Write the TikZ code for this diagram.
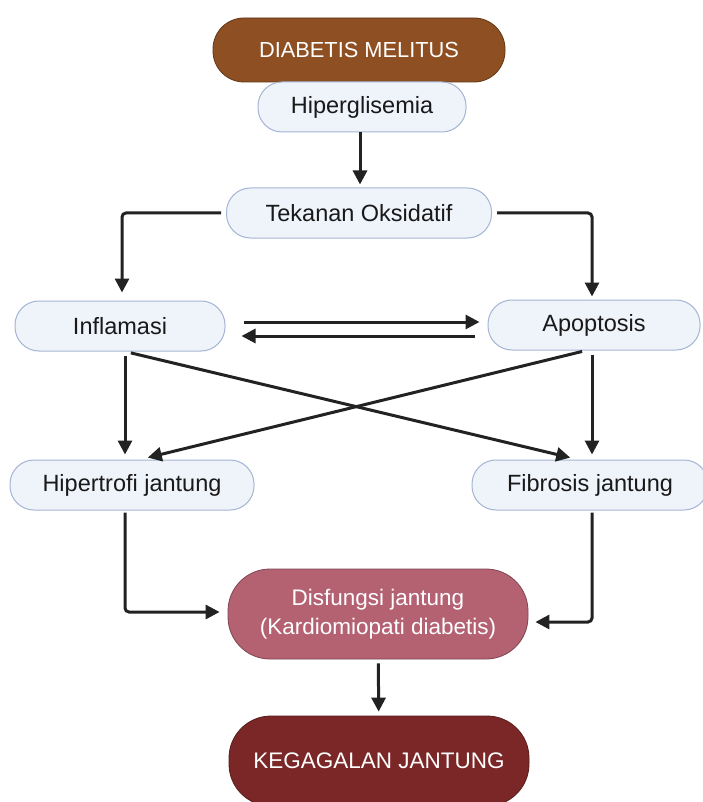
\documentclass[tikz,border=0pt]{standalone}
\usepackage{fontspec}
\setmainfont{Liberation Sans}
\usepackage{xcolor}
\usetikzlibrary{arrows.meta, positioning, calc}
\definecolor{softfill}{HTML}{EFF3FA}
\definecolor{softline}{HTML}{A5B5D4}
\definecolor{dmbrown}{HTML}{8E4F22}
\definecolor{dysrose}{HTML}{B46272}
\definecolor{failred}{HTML}{7C2727}
\definecolor{inkline}{HTML}{222222}

\begin{document}
\begin{tikzpicture}[
        x=1pt, y=-1pt,
        softnode/.style={rectangle, rounded corners=24pt, draw=softline, fill=softfill, line width=1pt, minimum height=50pt, align=center, font=\fontsize{23.5}{27}\selectfont, text=black!90},
        titlenode/.style={rectangle, rounded corners=31pt, draw=dmbrown!70!black, fill=dmbrown, line width=0.8pt, minimum width=292pt, minimum height=64pt, align=center, font=\fontsize{21.8}{25}\selectfont, text=white},
        endnode/.style={rectangle, rounded corners=42pt, line width=0.8pt, minimum width=300pt, minimum height=90pt, align=center, font=\fontsize{22.5}{29}\selectfont, text=white},
        linkarrow/.style={-{Triangle[length=14pt, width=14pt]}, line width=3pt, color=inkline, rounded corners=4pt}
    ]
        % Canvas
        \fill[white] (0,0) rectangle (702,802);
        \useasboundingbox (0,0) rectangle (702,802);

        % Top chain
        \node[titlenode] (dm) at (359, 50) {DIABETIS MELITUS};
        \node[softnode, minimum width=208pt] (hiper) at (362, 107) {Hiperglisemia};
        \node[softnode, minimum width=265pt] (oks) at (359, 213) {Tekanan Oksidatif};

        % Middle pair
        \node[softnode, minimum width=210pt] (inflam) at (120, 326) {Inflamasi};
        \node[softnode, minimum width=212pt] (apop) at (594, 325) {Apoptosis};

        % Heart changes
        \node[softnode, minimum width=244pt] (hipertrofi) at (132, 485) {Hipertrofi jantung};
        \node[softnode, minimum width=236pt] (fibrosis) at (590, 485) {Fibrosis jantung};

        % Outcomes
        \node[endnode, draw=dysrose!70!black, fill=dysrose] (disf) at (378, 614) {Disfungsi jantung\\(Kardiomiopati diabetis)};
        \node[endnode, draw=failred!70!black, fill=failred] (gagal) at (379, 761) {KEGAGALAN JANTUNG};

        % Connections
        \draw[linkarrow, shorten >=3pt] ([xshift=-2pt]hiper.south) -- ([xshift=-2pt]hiper.south |- oks.north);
        \draw[linkarrow, shorten <=5pt, shorten >=8pt] (oks.west) -| ([xshift=2pt]inflam.north);
        \draw[linkarrow, shorten <=5pt, shorten >=3pt] (oks.east) -| ([xshift=-2pt]apop.north);
        \draw[linkarrow, shorten <=18pt, shorten >=8pt] ([yshift=4pt]inflam.east) -- ([yshift=4pt]inflam.east -| apop.west);
        \draw[linkarrow, shorten <=13pt, shorten >=16pt] ([yshift=-11pt]apop.west) -- ([yshift=-11pt]apop.west -| inflam.east);
        \draw[linkarrow, shorten <=4pt, shorten >=5pt] ([xshift=5pt]inflam.south) -- ([xshift=5pt]inflam.south |- hipertrofi.north);
        \draw[linkarrow, shorten <=4pt, shorten >=5pt] ([xshift=-2pt]apop.south) -- ([xshift=-2pt]apop.south |- fibrosis.north);
        \draw[linkarrow, shorten <=6pt, shorten >=8pt] ([xshift=5pt]inflam.south) -- ([xshift=-12pt]fibrosis.north);
        \draw[linkarrow, shorten <=4pt, shorten >=8pt] ([xshift=-8pt]apop.south) -- ([xshift=8pt]hipertrofi.north);
        \draw[linkarrow, shorten <=2pt, shorten >=8pt] ([xshift=-7pt]hipertrofi.south) |- ([yshift=2pt]disf.west);
        \draw[linkarrow, shorten <=2pt, shorten >=7pt] ([xshift=2pt]fibrosis.south) |- ([yshift=-8pt]disf.east);
        \draw[linkarrow, shorten <=4pt, shorten >=4pt] (disf) -- (gagal);
    \end{tikzpicture}
\end{document}
